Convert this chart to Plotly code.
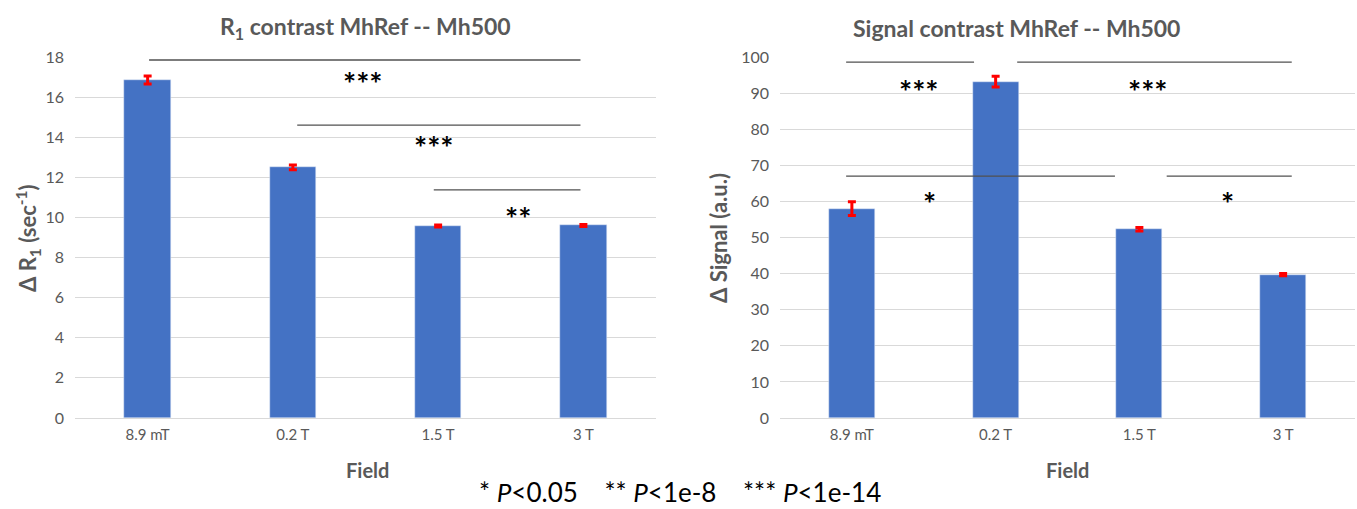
import plotly.graph_objects as go

fields = ["8.9 mT", "0.2 T", "1.5 T", "3 T"]
r1_values = [16.85, 12.5, 9.57, 9.6]
r1_errors = [0.2, 0.12, 0.05, 0.05]
sig_values = [58.0, 93.2, 52.3, 39.7]
sig_errors = [1.9, 1.5, 0.5, 0.3]

# significance brackets (x0, x1, y) and star labels (x, y, text)
r1_brackets = [(0.01, 2.98, 17.85), (1.03, 2.98, 14.6), (1.97, 2.98, 11.37)]
r1_stars = [(1.48, 16.95, "***"), (1.97, 13.77, "***"), (2.55, 10.2, "**")]
sig_brackets = [(-0.04, 0.85, 98.6), (1.15, 3.06, 98.6), (-0.04, 1.83, 67.0), (2.19, 3.06, 67.0)]
sig_stars = [(0.47, 92.0, "***"), (2.06, 92.0, "***"), (0.54, 61.0, "*"), (2.61, 61.0, "*")]

FONT = "Lato"
GRAY = "#595959"
BLUE = "#4472C4"

fig = go.Figure()
fig.add_trace(go.Bar(x=fields, y=r1_values, width=0.32, marker_color=BLUE,
                     error_y=dict(type="data", array=r1_errors, color="red", thickness=3, width=4),
                     xaxis="x", yaxis="y", showlegend=False))
fig.add_trace(go.Bar(x=fields, y=sig_values, width=0.32, marker_color=BLUE,
                     error_y=dict(type="data", array=sig_errors, color="red", thickness=3, width=4),
                     xaxis="x2", yaxis="y2", showlegend=False))

ydom = [1 - 418 / 509, 1 - 57 / 509]
xcommon = dict(type="category", range=[-0.5, 3.5], showgrid=False, zeroline=False,
               tickfont=dict(family=FONT, size=15, color=GRAY), ticks="", showline=False,
               automargin=False, ticklabelstandoff=6)
ycommon = dict(showgrid=True, gridcolor="#d9d9d9", gridwidth=1, zeroline=True,
               zerolinecolor="#d9d9d9", zerolinewidth=1, ticklabelstandoff=10,
               showline=False, ticks="", automargin=False,
               tickfont=dict(family=FONT, size=16, color=GRAY))
fig.update_layout(
    width=1357, height=509,
    margin=dict(l=0, r=0, t=0, b=0, autoexpand=False),
    paper_bgcolor="white", plot_bgcolor="white",
    bargap=0,
    xaxis=dict(domain=[75 / 1357, 656 / 1357], anchor="y", **xcommon),
    yaxis=dict(domain=ydom, anchor="x", range=[0, 18], dtick=2, **ycommon),
    xaxis2=dict(domain=[780 / 1357, 1355 / 1357], anchor="y2", **xcommon),
    yaxis2=dict(domain=ydom, anchor="x2", range=[0, 100], dtick=10, **ycommon),
)

shapes = []
for x0, x1, y in r1_brackets:
    shapes.append(dict(type="line", xref="x", yref="y", x0=x0, x1=x1, y0=y, y1=y,
                       line=dict(color="#505050", width=1.3)))
for x0, x1, y in sig_brackets:
    shapes.append(dict(type="line", xref="x2", yref="y2", x0=x0, x1=x1, y0=y, y1=y,
                       line=dict(color="#505050", width=1.3)))
fig.update_layout(shapes=shapes)

ann = []
for x, y, t in r1_stars:
    ann.append(dict(x=x, y=y, xref="x", yref="y", text="<b>" + t + "</b>", showarrow=False,
                    xanchor="center", yanchor="middle", yshift=-5,
                    font=dict(family=FONT, size=31, color="black")))
for x, y, t in sig_stars:
    ann.append(dict(x=x, y=y, xref="x2", yref="y2", text="<b>" + t + "</b>", showarrow=False,
                    xanchor="center", yanchor="middle", yshift=-5,
                    font=dict(family=FONT, size=31, color="black")))

def paper(px, py):
    return px / 1357, 1 - py / 509

labels = [
    (365, 28, "<b>R<sub>1</sub> contrast MhRef -- Mh500</b>", 23, GRAY, 0),
    (1016, 28, "<b>Signal contrast MhRef -- Mh500</b>", 23, GRAY, 0),
    (28, 238, "<b>Δ R<sub>1</sub> (sec<sup>-1</sup>)</b>", 22, GRAY, -90),
    (718, 238, "<b>Δ Signal (a.u.)</b>", 22, GRAY, -90),
    (367, 470, "<b>Field</b>", 20, GRAY, 0),
    (1067, 470, "<b>Field</b>", 20, GRAY, 0),
    (680, 492, "* <i>P</i><0.05    ** <i>P</i><1e-8    *** <i>P</i><1e-14", 26, "black", 0),
]
for px, py, t, s, c, ang in labels:
    x, y = paper(px, py)
    ann.append(dict(x=x, y=y, xref="paper", yref="paper", showarrow=False, text=t,
                    xanchor="center", yanchor="middle", textangle=ang,
                    font=dict(family=FONT, size=s, color=c)))
fig.update_layout(annotations=ann)

fig.write_html("out.html")
